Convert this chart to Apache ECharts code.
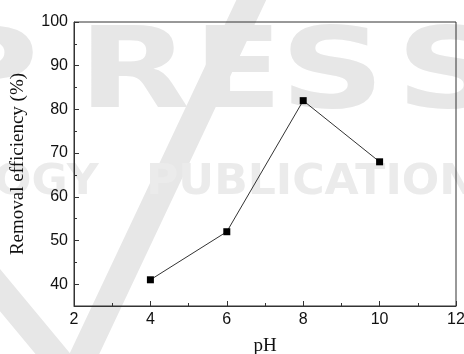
<!DOCTYPE html>
<html>
<head>
<meta charset="utf-8">
<script src="https://cdn.jsdelivr.net/npm/echarts@6/dist/echarts.min.js"></script>
<style>
  html, body { margin: 0; padding: 0; background: #fff; }
  #chart { width: 464px; height: 354px; }
</style>
</head>
<body>
<div id="chart"></div>
<script>
// Removal efficiency measured at each pH
const phValues = [4, 6, 8, 10];
const removalEfficiency = [41, 52, 82, 68];

// Axis ticks
const yMajorTicks = [40, 50, 60, 70, 80, 90, 100];
const yMinorTicks = [45, 55, 65, 75, 85, 95];

const seriesData = phValues.map((ph, i) => [ph, removalEfficiency[i]]);

const wmColor = '#e7e7e7';
const wmFont = '"DejaVu Sans", sans-serif';

function wmLetter(ch, x, y, size, weight, sx, color) {
  return {
    type: 'text', z: -10, silent: true,
    x: x, y: y, scaleX: sx,
    style: { text: ch, fill: color || wmColor, font: weight + ' ' + size + 'px ' + wmFont }
  };
}

const chart = echarts.init(document.getElementById('chart'), null, { renderer: 'canvas' });

chart.setOption({
  animation: false,
  backgroundColor: '#fff',
  graphic: [
    // faint background mark
    {
      type: 'polyline', z: -10, silent: true,
      shape: { points: [[-15, 272], [73, 378], [256, -10]] },
      style: { stroke: wmColor, lineWidth: 27, fill: null, lineJoin: 'round' }
    },
    wmLetter('P', -68, 22, 112, 'bold', 1.3),
    wmLetter('R', 78, 22, 112, 'bold', 1.3),
    wmLetter('E', 194, 22, 112, 'bold', 1.15),
    wmLetter('S', 280, 22, 112, 'bold', 1.3),
    wmLetter('S', 396, 22, 112, 'bold', 1.3),
    wmLetter('OGY', -6, 162, 42, 'bold', 1.05, '#ebebeb'),
    wmLetter('PUBLICATIONS', 146, 162, 42, 'bold', 1.05, '#ebebeb')
  ],
  grid: {
    left: 74, top: 22, right: 8, bottom: 48,
    containLabel: false,
    outerBoundsMode: 'none',
    show: true, borderColor: '#333', borderWidth: 1,
    backgroundColor: 'transparent'
  },
  xAxis: {
    type: 'value',
    min: 2, max: 12, interval: 2,
    name: 'pH',
    nameLocation: 'middle',
    nameGap: 31,
    nameTextStyle: { fontFamily: '"Liberation Serif", serif', fontSize: 19, color: '#111' },
    axisLine: { show: true, lineStyle: { color: '#333', width: 1 } },
    axisTick: { show: true, inside: true, length: 5, lineStyle: { color: '#333' } },
    minorTick: { show: true, splitNumber: 2, length: 3, lineStyle: { color: '#333' } },
    splitLine: { show: false },
    minorSplitLine: { show: false },
    axisLabel: { fontFamily: '"Liberation Sans", Arial, sans-serif', fontSize: 16, color: '#111', margin: 6 }
  },
  yAxis: [
    {
      type: 'value',
      min: 35, max: 100,
      name: 'Removal efficiency (%)',
      nameLocation: 'middle',
      nameGap: 46,
      nameTextStyle: { fontFamily: '"Liberation Serif", serif', fontSize: 19, color: '#111' },
      axisLine: { show: true, lineStyle: { color: '#333', width: 1 } },
      axisTick: { show: true, inside: true, length: 5, customValues: yMajorTicks, lineStyle: { color: '#333' } },
      splitLine: { show: false },
      axisLabel: { customValues: yMajorTicks, fontFamily: '"Liberation Sans", Arial, sans-serif', fontSize: 16, color: '#111', margin: 6 }
    },
    {
      type: 'value',
      min: 35, max: 100,
      position: 'left',
      axisLine: { show: false },
      axisTick: { show: true, inside: true, length: 3, customValues: yMinorTicks, lineStyle: { color: '#333' } },
      splitLine: { show: false },
      axisLabel: { show: false }
    }
  ],
  series: [{
    type: 'line',
    data: seriesData,
    yAxisIndex: 0,
    symbol: 'rect',
    symbolSize: 7,
    itemStyle: { color: '#000' },
    lineStyle: { color: '#333', width: 1 }
  }]
});
</script>
</body>
</html>
